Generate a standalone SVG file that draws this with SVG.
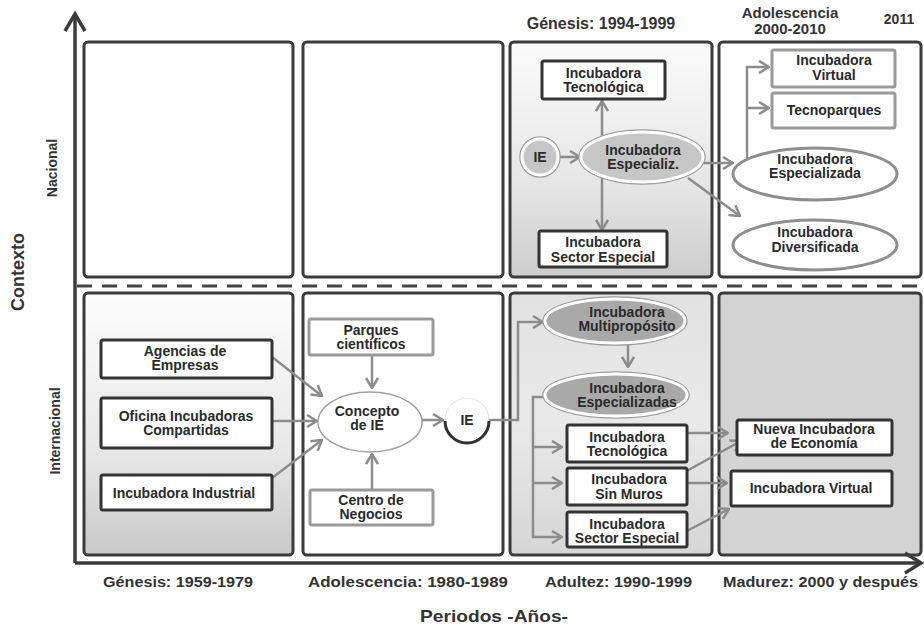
<svg xmlns="http://www.w3.org/2000/svg" width="924" height="629" viewBox="0 0 924 629">
<style>
.panel{stroke:#3b3b3b;stroke-width:3}
.box{fill:#fff;stroke:#333;stroke-width:3}
.gbox{fill:#fff;stroke:#9a9a9a;stroke-width:3}
.t{font-family:"Liberation Sans",Arial,sans-serif;font-weight:bold;font-size:14px;fill:#2a2a2a;text-anchor:middle}
.lab{font-family:"Liberation Sans",Arial,sans-serif;font-weight:bold;fill:#333}
.conn{fill:none;stroke:#8c8c8c;stroke-width:2.5;marker-end:url(#ah)}
.axis{fill:none;stroke:#3b3b3b;stroke-width:3.5}
.gell{stroke:#fff;stroke-width:3}
.gring{fill:none;stroke:#9c9c9c;stroke-width:1.5}
.well{fill:#fff;stroke:#8e8e8e;stroke-width:3}
</style>
<defs>
<marker id="ah" viewBox="0 0 12 14" refX="11" refY="7" markerWidth="12" markerHeight="14" markerUnits="userSpaceOnUse" orient="auto">
<path d="M1,1 L11,7 L1,13" fill="none" stroke="#8c8c8c" stroke-width="2.5"/>
</marker>
<linearGradient id="gT3" x1="0" y1="0" x2="0" y2="1">
<stop offset="0" stop-color="#fbfbfb"/><stop offset="0.6" stop-color="#e6e6e6"/><stop offset="1" stop-color="#cdcdcd"/>
</linearGradient>
<linearGradient id="gB1" x1="0" y1="0" x2="0" y2="1">
<stop offset="0" stop-color="#fdfdfd"/><stop offset="0.6" stop-color="#e8e8e8"/><stop offset="1" stop-color="#c9c9c9"/>
</linearGradient>
<linearGradient id="gB3" x1="0" y1="0" x2="0" y2="1">
<stop offset="0" stop-color="#e2e2e2"/><stop offset="0.5" stop-color="#e9e9e9"/><stop offset="1" stop-color="#d6d6d6"/>
</linearGradient>
</defs>

<g id="panels">
<rect class="panel" x="84" y="42" width="209" height="235" rx="4" fill="#fff"/>
<rect class="panel" x="303" y="42" width="200" height="235" rx="4" fill="#fff"/>
<rect class="panel" x="510" y="42" width="202" height="235" rx="4" fill="url(#gT3)"/>
<rect class="panel" x="719" y="42" width="202" height="235" rx="4" fill="#fff"/>
<rect class="panel" x="84" y="293" width="209" height="262" rx="4" fill="url(#gB1)"/>
<rect class="panel" x="303" y="293" width="200" height="262" rx="4" fill="#fff"/>
<rect class="panel" x="510" y="293" width="202" height="262" rx="4" fill="url(#gB3)"/>
<rect class="panel" x="719" y="293" width="202" height="262" rx="4" fill="#d4d4d4"/>
</g>

<g id="axes">
<path class="axis" d="M75,563 L75,15"/>
<path class="axis" d="M75,563 L919,563"/>
<path class="axis" d="M65,31 L75,14 L85,31"/>
<path class="axis" d="M905,553 L921,563 L905,573"/>
<path d="M77,286 L920,286" fill="none" stroke="#444" stroke-width="3" stroke-dasharray="15 10"/>
</g>

<g id="labels">
<text class="lab" font-size="18" text-anchor="middle" transform="translate(24,272) rotate(-90)">Contexto</text>
<text class="lab" font-size="14" text-anchor="middle" transform="translate(57,168) rotate(-90)">Nacional</text>
<text class="lab" font-size="14" text-anchor="middle" transform="translate(60,431) rotate(-90)">Internacional</text>
<text class="lab" font-size="16" text-anchor="middle" x="601" y="29">Génesis: 1994-1999</text>
<text class="lab" font-size="15" text-anchor="middle" x="790" y="18">Adolescencia</text>
<text class="lab" font-size="15" text-anchor="middle" x="790" y="34">2000-2010</text>
<text class="lab" font-size="14" text-anchor="middle" x="899" y="24">2011</text>
<text class="lab" font-size="14" x="103" y="587" textLength="150" lengthAdjust="spacingAndGlyphs">Génesis: 1959-1979</text>
<text class="lab" font-size="14" x="308" y="587" textLength="200" lengthAdjust="spacingAndGlyphs">Adolescencia: 1980-1989</text>
<text class="lab" font-size="14" x="545" y="587" textLength="147" lengthAdjust="spacingAndGlyphs">Adultez: 1990-1999</text>
<text class="lab" font-size="14" x="723" y="587" textLength="195" lengthAdjust="spacingAndGlyphs">Madurez: 2000 y después</text>
<text class="lab" font-size="17" x="420" y="622" textLength="148" lengthAdjust="spacingAndGlyphs">Periodos -Años-</text>
</g>

<g id="connectors">
<path class="conn" d="M602,138 L602,101"/>
<path class="conn" d="M602,176 L602,230"/>
<path class="conn" d="M559,157 L580,157"/>
<path class="conn" d="M702,163 L733,163"/>
<path class="conn" d="M688,178 L740,216"/>
<path class="conn" d="M747,158 L747,67 L769,67"/>
<path class="conn" d="M747,108 L769,108"/>
<path class="conn" d="M272,357 L322,396"/>
<path class="conn" d="M272,421 L317,421"/>
<path class="conn" d="M272,478 L322,440"/>
<path class="conn" d="M372,355 L372,388"/>
<path class="conn" d="M372,490 L372,454"/>
<path class="conn" d="M422,420 L443,420"/>
<path class="conn" d="M489,420 L518,420 L518,322 L543,322"/>
<path class="conn" d="M628,345 L628,367"/>
<path class="conn" d="M547,397 L533,397 L533,537 L562,537"/>
<path class="conn" d="M533,447 L562,447"/>
<path class="conn" d="M533,483 L562,483"/>
<path class="conn" d="M687,433 L728,433"/>
<path class="conn" d="M683,473 L741,441"/>
<path class="conn" d="M687,483 L727,483"/>
<path class="conn" d="M683,533 L729,509"/>
</g>

<g id="n-tec-nac">
<rect class="box" x="542" y="61" width="123" height="38" rx="2"/>
<text class="t" x="603.5" y="77.5">Incubadora<tspan x="603.5" y="92">Tecnológica</tspan></text>
</g>
<g id="n-ie-nac">
<circle cx="540" cy="157" r="20" class="gring"/>
<circle cx="540" cy="157" r="18" fill="#c6c6c6" class="gell"/>
<text class="t" x="540" y="162">IE</text>
</g>
<g id="n-espz-nac">
<ellipse cx="642" cy="157" rx="63" ry="27" class="gring"/>
<ellipse cx="642" cy="157" rx="61" ry="25" fill="#c6c6c6" class="gell"/>
<text class="t" x="643" y="154.5">Incubadora<tspan x="643" y="169">Especializ.</tspan></text>
</g>
<g id="n-sec-nac">
<rect class="box" x="539" y="231" width="128" height="36" rx="2"/>
<text class="t" x="603" y="247">Incubadora<tspan x="603" y="261.5">Sector Especial</tspan></text>
</g>
<g id="n-virt-nac">
<rect class="gbox" x="772" y="50" width="123" height="37" rx="2"/>
<text class="t" x="834" y="65">Incubadora<tspan x="834" y="79.5">Virtual</tspan></text>
</g>
<g id="n-tecno-nac">
<rect class="gbox" x="772" y="93" width="123" height="35" rx="2"/>
<text class="t" x="834" y="115">Tecnoparques</text>
</g>
<g id="n-especializada-nac">
<ellipse class="well" cx="815" cy="174" rx="82" ry="26"/>
<text class="t" x="815" y="163.5">Incubadora<tspan x="815" y="178">Especializada</tspan></text>
</g>
<g id="n-div-nac">
<ellipse class="well" cx="815" cy="245" rx="82" ry="25"/>
<text class="t" x="815" y="237">Incubadora<tspan x="815" y="251.5">Diversificada</tspan></text>
</g>

<g id="n-agencias">
<rect class="box" x="101" y="340" width="171" height="38" rx="2"/>
<text class="t" x="185" y="355.5">Agencias de<tspan x="185" y="370">Empresas</tspan></text>
</g>
<g id="n-oficina">
<rect class="box" x="101" y="398" width="171" height="50" rx="2"/>
<text class="t" x="186" y="420.5">Oficina Incubadoras<tspan x="186" y="435">Compartidas</tspan></text>
</g>
<g id="n-industrial">
<rect class="box" x="101" y="475" width="171" height="35" rx="2"/>
<text class="t" x="184" y="498">Incubadora Industrial</text>
</g>
<g id="n-parques">
<rect class="gbox" x="309" y="319" width="124" height="36" rx="2"/>
<text class="t" x="371" y="334.5">Parques<tspan x="371" y="349">científicos</tspan></text>
</g>
<g id="n-concepto">
<ellipse cx="370" cy="422" rx="52" ry="30" fill="#fff" stroke="#a0a0a0" stroke-width="1.5"/>
<text class="t" x="367" y="415.5">Concepto<tspan x="367" y="430">de IE</tspan></text>
</g>
<g id="n-centro">
<rect class="gbox" x="310" y="490" width="123" height="35" rx="2"/>
<text class="t" x="371" y="504.5">Centro de<tspan x="371" y="519">Negocios</tspan></text>
</g>
<g id="n-ie-int">
<circle cx="467" cy="420" r="22" fill="#fff"/>
<path d="M445,420 A22,22 0 0 1 489,420" fill="none" stroke="#e2e2e2" stroke-width="1"/>
<path d="M445,421 A22,22 0 0 0 489,421" fill="none" stroke="#333" stroke-width="3"/>
<text class="t" x="467" y="425">IE</text>
</g>
<g id="n-multi">
<ellipse cx="615" cy="321" rx="72" ry="24" class="gring"/>
<ellipse cx="615" cy="321" rx="70" ry="22" fill="#a9a9a9" class="gell"/>
<text class="t" x="627" y="316.5">Incubadora<tspan x="627" y="331">Multipropósito</tspan></text>
</g>
<g id="n-espz-int">
<ellipse cx="616" cy="395" rx="73" ry="23" class="gring"/>
<ellipse cx="616" cy="395" rx="71" ry="21" fill="#a9a9a9" class="gell"/>
<text class="t" x="627" y="392.5">Incubadora<tspan x="627" y="407">Especializadas</tspan></text>
</g>
<g id="n-tec-int">
<rect class="box" x="567" y="425" width="120" height="37" rx="2"/>
<text class="t" x="627" y="441.5">Incubadora<tspan x="627" y="456">Tecnológica</tspan></text>
</g>
<g id="n-sin-muros">
<rect class="box" x="567" y="468" width="120" height="37" rx="2"/>
<text class="t" x="629" y="484">Incubadora<tspan x="629" y="498.5">Sin Muros</tspan></text>
</g>
<g id="n-sec-int">
<rect class="box" x="567" y="512" width="120" height="35" rx="2"/>
<text class="t" x="627" y="528.5">Incubadora<tspan x="627" y="543">Sector Especial</tspan></text>
</g>
<g id="n-nueva">
<rect class="box" x="737" y="420" width="155" height="35" rx="2"/>
<text class="t" x="814" y="433.5">Nueva Incubadora<tspan x="814" y="448">de Economía</tspan></text>
</g>
<g id="n-virtual-int">
<rect class="box" x="731" y="471" width="161" height="35" rx="2"/>
<text class="t" x="811" y="493">Incubadora Virtual</text>
</g>
</svg>
